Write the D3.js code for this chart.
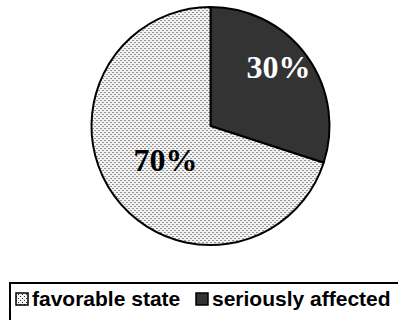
<!DOCTYPE html>
<html><head><meta charset="utf-8">
<script src="https://cdn.jsdelivr.net/npm/d3@7"></script>
<style>html,body{margin:0;padding:0;background:#fff;}</style>
</head><body>
<script>
const categories = ["favorable state", "seriously affected"];
const values = [70, 30];
const labels = ["70%", "30%"];

const W = 398, H = 320;
const svg = d3.select("body").append("svg").attr("width", W).attr("height", H);
const defs = svg.append("defs");
const pat = defs.append("pattern").attr("id", "dots").attr("patternUnits", "userSpaceOnUse")
  .attr("width", 4).attr("height", 4);
pat.append("rect").attr("width", 4).attr("height", 4).attr("fill", "#f2f2f2");
pat.append("rect").attr("x", 0).attr("y", 0).attr("width", 1).attr("height", 1).attr("fill", "#333");
pat.append("rect").attr("x", 2).attr("y", 2).attr("width", 1).attr("height", 1).attr("fill", "#333");

const fills = ["url(#dots)", "#333333"];
const textFills = ["#000", "#fff"];

const cx = 210.5, cy = 126, r = 119;
// dark slice starts at 12 o'clock going clockwise
const order = [1, 0];
const pie = d3.pie().sort(null).value(i => values[i]);
const arcs = pie(order);
const arc = d3.arc().innerRadius(0).outerRadius(r);
const g = svg.append("g").attr("transform", `translate(${cx},${cy})`);
g.selectAll("path").data(arcs).join("path")
  .attr("d", arc)
  .attr("fill", d => fills[d.data])
  .attr("stroke", "#000").attr("stroke-width", 2).attr("stroke-linejoin", "round");

const labelPos = { 1: [68, -48], 0: [-45, 45] };
g.selectAll("text").data(arcs).join("text")
  .attr("x", d => labelPos[d.data][0])
  .attr("y", d => labelPos[d.data][1])
  .attr("text-anchor", "middle")
  .attr("font-family", "'Liberation Serif','Times New Roman',serif")
  .attr("font-weight", "bold").attr("font-size", 32)
  .attr("fill", d => textFills[d.data])
  .text(d => labels[d.data]);

// legend
svg.append("rect").attr("x", 10).attr("y", 283).attr("width", 400).attr("height", 60)
  .attr("fill", "none").attr("stroke", "#000").attr("stroke-width", 2);
const legX = [16, 196];
const lg = svg.append("g");
categories.forEach((c, i) => {
  lg.append("rect").attr("x", legX[i]).attr("y", 293).attr("width", 12).attr("height", 12)
    .attr("fill", fills[i]).attr("stroke", "#000").attr("stroke-width", 1.5);
  lg.append("text").attr("x", legX[i] + 16).attr("y", 306)
    .attr("font-family", "'Liberation Sans',Arial,sans-serif")
    .attr("font-weight", "bold").attr("font-size", 21).attr("fill", "#000")
    .text(c);
});
</script>
</body></html>
